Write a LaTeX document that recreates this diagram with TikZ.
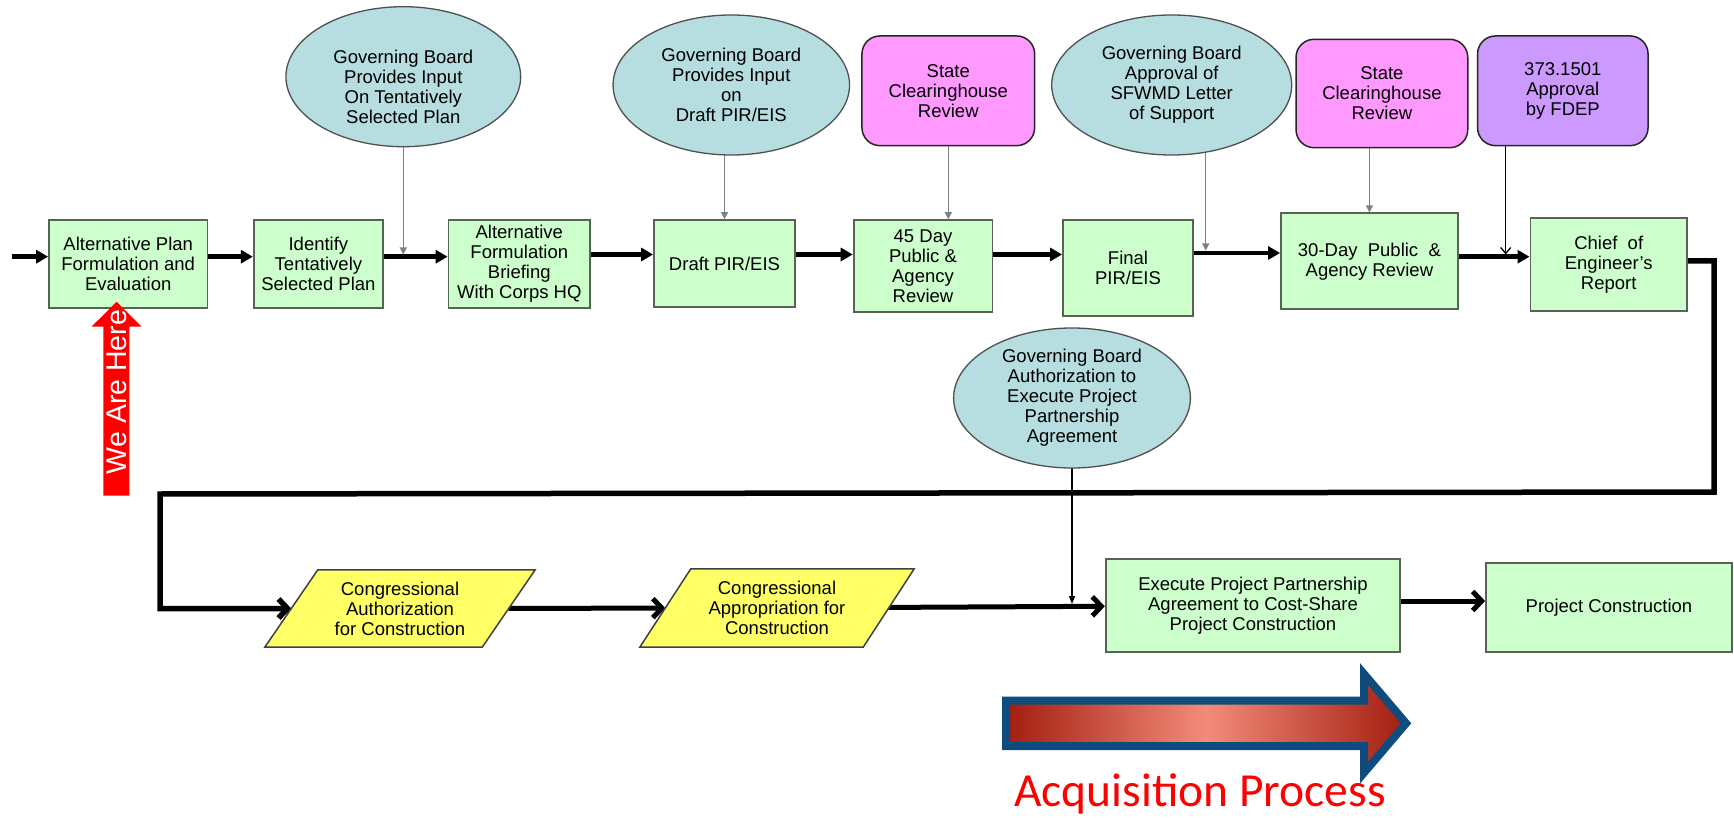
\documentclass[tikz,border=0pt]{standalone}
\usepackage{fontspec}
\setmainfont{Liberation Sans}
\newfontfamily\calib{Carlito}
\usetikzlibrary{arrows.meta,shapes.geometric,calc}
\pgfdeclarelayer{paper}
\pgfdeclarelayer{background}
\pgfdeclarelayer{mid}
\pgfsetlayers{paper,background,mid,main}
\definecolor{boxgreen}{HTML}{CCFFCC}
\definecolor{gborder}{HTML}{556455}
\definecolor{ellfill}{HTML}{B6DDE0}
\definecolor{ellborder}{HTML}{505050}
\definecolor{pinkfill}{HTML}{FF99FF}
\definecolor{purplefill}{HTML}{CC99FF}
\definecolor{yellowfill}{HTML}{FFFF66}
\definecolor{acqblue}{HTML}{0F4C7E}
\definecolor{acqdark}{HTML}{A31E0F}
\definecolor{acqlight}{HTML}{F38B7A}
\definecolor{thingray}{HTML}{808080}
\begin{document}
\begin{tikzpicture}[x=1pt,y=-1pt,
  txt/.style={font=\fontsize{18.5}{20}\selectfont, align=center, text=black},
  gbox/.style={txt, rectangle, draw=gborder, fill=boxgreen, line width=1.8pt, inner sep=0pt},
  ell/.style={txt, ellipse, draw=ellborder, fill=ellfill, line width=1.3pt, inner sep=-4pt},
  rbox/.style={txt, rectangle, rounded corners=18pt, draw=black!85, line width=1.5pt, inner sep=0pt},
  parabox/.style={txt, rectangle, inner sep=0pt},
  parashape/.style={draw=black!75, fill=yellowfill, line width=1.5pt, line join=miter},
  flow/.style={line width=4.5pt, -{Triangle[length=12pt,width=13pt]}},
  flowb/.style={line width=5pt, -{Straight Barb[length=9pt,width=19pt]}},
  thinc/.style={line width=1.4pt, draw=thingray, -{Triangle[length=7pt,width=7pt]}},
  thinb/.style={line width=1.3pt, draw=black, -{Triangle[length=8pt,width=6pt]}},
  thinv/.style={line width=1.3pt, draw=black, -{Straight Barb[length=6pt,width=10pt]}}
]
\useasboundingbox (0,0) rectangle (1734,818);
\begin{pgfonlayer}{paper}
\fill[white] (0,0) rectangle (1734,818);
\end{pgfonlayer}

% top row process boxes
\node[gbox, minimum width=158.4pt, minimum height=87.4pt] (altplan) at (128.2,264) {Alternative Plan\\Formulation and\\Evaluation};
\node[gbox, minimum width=129.3pt, minimum height=87.7pt] (identify) at (318.4,263.9) {Identify\\Tentatively\\Selected Plan};
\node[gbox, minimum width=141.5pt, minimum height=87.7pt] (altform) at (519.3,264.2) {Alternative\\Formulation\\Briefing\\With Corps HQ};
\node[gbox, minimum width=141pt, minimum height=87.3pt] (draft) at (724.5,263.7) {Draft PIR/EIS};
\node[gbox, minimum width=138.8pt, minimum height=91.7pt] (day45) at (923,265.9) {45 Day\\Public \&\\Agency\\Review};
\node[gbox, minimum width=130pt, minimum height=96pt] (final) at (1128,268) {Final\\PIR/EIS};
\node[gbox, minimum width=176.8pt, minimum height=96pt] (day30) at (1369.4,261.3) {30-Day\ \ Public\ \ \&\\Agency Review};
\node[gbox, minimum width=156.6pt, minimum height=92.4pt] (chief) at (1608.7,264.5) {Chief\ \ of\\Engineer's\\Report};

% inputs from above
\node[ell, minimum width=234.7pt, minimum height=140pt] (e1) at (403.3,76.7) {};
\node[txt] (e1t) at (403.3,87) {Governing Board\\Provides Input\\On Tentatively\\Selected Plan};
\node[ell, minimum width=236.5pt, minimum height=140pt] (e2) at (731.3,85) {Governing Board\\Provides Input\\on\\Draft PIR/EIS};
\node[rbox, fill=pinkfill, minimum width=172.7pt, minimum height=109.7pt] (pink1) at (948.3,90.8) {State\\Clearinghouse\\Review};
\node[ell, minimum width=240pt, minimum height=140pt] (e3) at (1171.7,85) {Governing Board\\Approval of\\SFWMD Letter\\of Support};
\node[rbox, fill=pinkfill, minimum width=171.7pt, minimum height=108.4pt] (pink2) at (1381.9,93.5) {State\\Clearinghouse\\Review};
\node[rbox, fill=purplefill, minimum width=170.5pt, minimum height=109.7pt] (purple) at (1562.8,90.8) {373.1501\\Approval\\by FDEP};

% lower part
\node[ell, minimum width=236.8pt, minimum height=140pt] (e4) at (1072,398) {Governing Board\\Authorization to\\Execute Project\\Partnership\\Agreement};
\node[parabox, minimum width=217pt, minimum height=77pt] (para1) at (400,608.5) {Congressional\\Authorization\\for Construction};
\node[parabox, minimum width=223pt, minimum height=78pt] (para2) at (777,608) {Congressional\\Appropriation for\\Construction};
\node[gbox, minimum width=294.6pt, minimum height=92.4pt] (exec) at (1253,605.5) {Execute Project Partnership\\Agreement to Cost-Share\\Project Construction};
\node[gbox, minimum width=246pt, minimum height=89pt] (projc) at (1609,607.4) {Project Construction};

\begin{pgfonlayer}{mid}
\draw[parashape] ([xshift=26.5pt]para1.north west) -- ([xshift=26.5pt]para1.north east) -- ([xshift=-26.5pt]para1.south east) -- ([xshift=-26.5pt]para1.south west) -- cycle;
\draw[parashape] ([xshift=25.5pt]para2.north west) -- ([xshift=25.5pt]para2.north east) -- ([xshift=-25.5pt]para2.south east) -- ([xshift=-25.5pt]para2.south west) -- cycle;
\end{pgfonlayer}

\begin{pgfonlayer}{background}
\coordinate (start) at (11.5,256.7);
\coordinate (r2) at (0,254.5);
\coordinate (r3) at (0,253);
\draw[flow] (start) -- (start -| altplan.west);
\draw[flow] (altplan.east |- start) -- (identify.west |- start);
\draw[flow] (identify.east |- start) -- (altform.west |- start);
\draw[flow] (altform.east |- r2) -- (draft.west |- r2);
\draw[flow] (draft.east |- r2) -- (day45.west |- r2);
\draw[flow] (day45.east |- r2) -- (final.west |- r2);
\draw[flow] (final.east |- r3) -- (day30.west |- r3);
\draw[flow] (day30.east |- start) -- (chief.west |- start);

% thin input connectors
\coordinate (t1) at (0,254.5);
\coordinate (x3) at (1205.7,0);
\coordinate (t3) at (0,250.5);
\coordinate (x5) at (1505.7,0);
\coordinate (t6) at (0,604);
\draw[thinc] (e1.center) -- (e1.center |- t1);
\draw[thinc] (draft.north |- e2.center) -- (draft.north);
\draw[thinc] (pink1.center) -- (pink1.center |- day45.north);
\draw[thinc] (x3 |- e3.center) -- (x3 |- t3);
\draw[thinc] (day30.north |- pink2.center) -- (day30.north);
\draw[thinv] (x5 |- purple.center) -- (x5 |- t1);
\draw[thinb] (e4.center) -- (e4.center |- t6);

% loop to the lower row
\coordinate (c1) at (1714,261);
\coordinate (c2) at (1714,492);
\coordinate (c3) at (160,494);
\draw[flowb, line width=5.5pt, line join=miter] (chief.east |- c1) -- (c1) -- (c2) -- (c3) -- (c3 |- para1) -- (para1);
\draw[flowb] (para1) -- (para2);
\draw[flowb] (para2) -- (exec);
\coordinate (r5) at (0,601);
\draw[flowb] (exec.east |- r5) -- (projc.west |- r5);
\end{pgfonlayer}

% We Are Here arrow
\fill[red] (116.7,301.7) -- (141.6,326.7) -- (129.4,326.7) -- (129.4,495.7) -- (103.3,495.7) -- (103.3,326.7) -- (91.5,326.7) -- cycle;
\node[rotate=90, text=white, font=\fontsize{28.5}{28.5}\selectfont, inner sep=0pt] (here) at (116.6,392) {We Are Here};

% Acquisition Process arrow
\path[draw=acqblue, line width=8pt, line join=miter, left color=acqdark, right color=acqdark, middle color=acqlight]
  (1006,700.7) -- (1364,700.7) -- (1364,674) -- (1406,723.3) -- (1364,772.7) -- (1364,746) -- (1006,746) -- cycle;
\node[text=red, font=\calib\fontsize{47.5}{47.5}\selectfont, anchor=base, inner sep=0pt] (acq) at (1200,806) {Acquisition Process};
\end{tikzpicture}
\end{document}
